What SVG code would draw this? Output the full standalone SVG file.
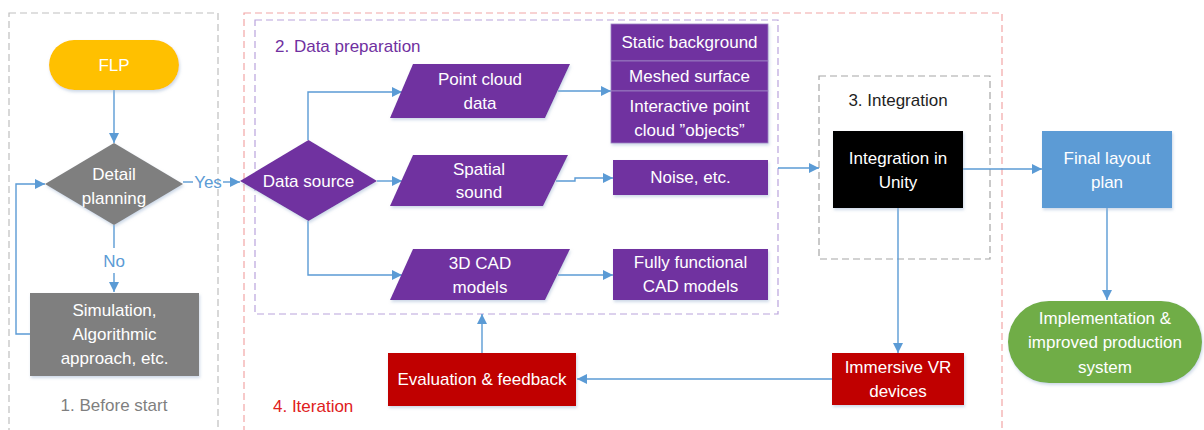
<svg xmlns="http://www.w3.org/2000/svg" width="1204" height="430" viewBox="0 0 1204 430">
<defs>
<marker id="arr" viewBox="0 0 10 10" refX="10" refY="5" markerWidth="10" markerHeight="10" markerUnits="userSpaceOnUse" orient="auto">
<path d="M0,0 L10,5 L0,10 z" fill="#5B9BD5"/>
</marker>
<filter id="sh" x="-10%" y="-10%" width="130%" height="130%">
<feDropShadow dx="1" dy="2" stdDeviation="1.5" flood-color="#9DB4D0" flood-opacity="0.5"/>
</filter>
</defs>
<style>
text{font-family:"Liberation Sans",Arial,sans-serif;font-size:17px;text-anchor:middle}
.w{fill:#FFFFFF}
.c{fill:none;stroke:#5B9BD5;stroke-width:1.4}
.ca{fill:none;stroke:#5B9BD5;stroke-width:1.4;marker-end:url(#arr)}
.frame{fill:none;stroke-width:1.2;stroke-dasharray:7,4}
.pur{fill:#7030A0;filter:url(#sh)}
</style>
<rect width="1204" height="430" fill="#FFFFFF"/>

<g id="frames">
<rect class="frame" x="9" y="13" width="209" height="420" stroke="#BFBFBF"/>
<rect class="frame" x="244" y="13" width="758" height="420" stroke="#F2A6A6"/>
<rect class="frame" x="255" y="20" width="523" height="294" stroke="#B9A3DC"/>
<rect class="frame" x="819" y="76" width="171" height="183" stroke="#A6A6A6"/>
<text x="114" y="411" fill="#7F7F7F">1. Before start</text>
<text x="275" y="52" fill="#7030A0" style="text-anchor:start">2. Data preparation</text>
<text x="898" y="106" fill="#1F1F1F">3. Integration</text>
<text x="273" y="412" fill="#E02020" style="text-anchor:start">4. Iteration</text>
</g>

<g id="connectors">
<path class="ca" d="M114,90 V143"/>
<path class="c" d="M183,182 H193"/>
<path class="ca" d="M223,182 H240"/>
<text x="208" y="188" fill="#5B9BD5">Yes</text>
<path class="c" d="M114,225 V248"/>
<path class="ca" d="M114,273 V292"/>
<text x="114" y="267" fill="#5B9BD5">No</text>
<path class="ca" d="M30,334 H16 V184 H45"/>
<path class="ca" d="M308,140 V92 H402"/>
<path class="ca" d="M377,181 H402"/>
<path class="ca" d="M308,221 V275 H402"/>
<path class="ca" d="M558,91 H611"/>
<path class="ca" d="M556,181 H575 V178 H613"/>
<path class="ca" d="M558,275 H613"/>
<path class="ca" d="M778,168 H819"/>
<path class="ca" d="M963,169 H1042"/>
<path class="ca" d="M1107,208 V300"/>
<path class="ca" d="M898,208 V353"/>
<path class="ca" d="M832,379 H577"/>
<path class="ca" d="M482,353 V314"/>
</g>

<g id="flp">
<rect x="49" y="40" width="130" height="50" rx="25" fill="#FFC000" filter="url(#sh)"/>
<text x="114" y="71" class="w">FLP</text>
</g>

<g id="detail-planning">
<path d="M114,143 L183,184 L114,225 L45,184 z" fill="#7F7F7F" filter="url(#sh)"/>
<text x="114" y="180" class="w">Detail</text>
<text x="114" y="204" class="w">planning</text>
</g>

<g id="simulation">
<rect x="30" y="293" width="169" height="83" fill="#7F7F7F" filter="url(#sh)"/>
<text x="114.5" y="316" class="w">Simulation,</text>
<text x="114.5" y="340" class="w">Algorithmic</text>
<text x="114.5" y="364" class="w">approach, etc.</text>
</g>

<g id="data-source">
<path d="M308.5,140 L377,181 L308.5,221 L240,181 z" class="pur"/>
<text x="308.5" y="187" class="w">Data source</text>
</g>

<g id="point-cloud-data">
<path d="M413,64 H570 L545,118 H390 z" class="pur"/>
<text x="480" y="85" class="w">Point cloud</text>
<text x="480" y="109" class="w">data</text>
</g>

<g id="spatial-sound">
<path d="M413,155 H568 L543,206 H390 z" class="pur"/>
<text x="479" y="175" class="w">Spatial</text>
<text x="479" y="198" class="w">sound</text>
</g>

<g id="cad-models">
<path d="M413,249 H570 L545,300 H390 z" class="pur"/>
<text x="480" y="269" class="w">3D CAD</text>
<text x="480" y="293" class="w">models</text>
</g>

<g id="static-background">
<rect x="611" y="24" width="157" height="37" class="pur" stroke="#9E86C4" stroke-width="0.8"/>
<text x="689.5" y="48" class="w">Static background</text>
</g>
<g id="meshed-surface">
<rect x="611" y="61" width="157" height="30" class="pur" stroke="#9E86C4" stroke-width="0.8"/>
<text x="689.5" y="82" class="w">Meshed surface</text>
</g>
<g id="interactive-objects">
<rect x="611" y="91" width="157" height="52" class="pur" stroke="#9E86C4" stroke-width="0.8"/>
<text x="689.5" y="112" class="w">Interactive point</text>
<text x="689.5" y="136" class="w">cloud ”objects”</text>
</g>
<g id="noise">
<rect x="613" y="160" width="155" height="35" class="pur"/>
<text x="690.5" y="183" class="w">Noise, etc.</text>
</g>
<g id="functional-cad">
<rect x="613" y="249" width="155" height="51" class="pur"/>
<text x="690.5" y="268" class="w">Fully functional</text>
<text x="690.5" y="292" class="w">CAD models</text>
</g>

<g id="integration-unity">
<rect x="833" y="131" width="130" height="77" fill="#000000" filter="url(#sh)"/>
<text x="898" y="164" class="w">Integration in</text>
<text x="898" y="188" class="w">Unity</text>
</g>

<g id="final-layout">
<rect x="1042" y="131" width="130" height="77" fill="#5B9BD5" filter="url(#sh)"/>
<text x="1107" y="164" class="w">Final layout</text>
<text x="1107" y="188" class="w">plan</text>
</g>

<g id="implementation">
<rect x="1008" y="301" width="194" height="82" rx="41" fill="#70AD47" filter="url(#sh)"/>
<text x="1105" y="324" class="w">Implementation &amp;</text>
<text x="1105" y="348" class="w">improved production</text>
<text x="1105" y="373" class="w">system</text>
</g>

<g id="immersive-vr">
<rect x="832" y="353" width="132" height="52" fill="#C00000" filter="url(#sh)"/>
<text x="898" y="373" class="w">Immersive VR</text>
<text x="898" y="397" class="w">devices</text>
</g>

<g id="evaluation">
<rect x="388" y="353" width="188" height="53" fill="#C00000" filter="url(#sh)"/>
<text x="482" y="385" class="w">Evaluation &amp; feedback</text>
</g>
</svg>
